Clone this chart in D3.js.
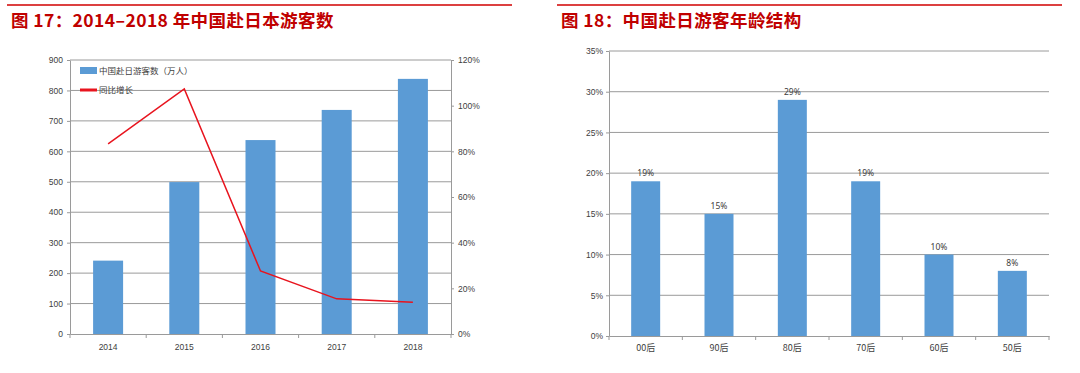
<!DOCTYPE html>
<html>
<head>
<meta charset="utf-8">
<script src="https://cdn.jsdelivr.net/npm/d3@7"></script>
<style>
  body { margin: 0; background: #fff; }
  svg { display: block; font-family: "Noto Sans", "Noto Sans CJK SC", sans-serif; }
</style>
</head>
<body>
<div id="chart"></div>
<script>
// data
const years = ["2014", "2015", "2016", "2017", "2018"]
const visitors = [241, 499, 637, 736, 838]
const growth = [0.833, 1.073, 0.276, 0.154, 0.139]
const leftTicks = [0, 100, 200, 300, 400, 500, 600, 700, 800, 900]
const rightTicks = [0, 0.2, 0.4, 0.6, 0.8, 1.0, 1.2]

const ageGroups = ["00后", "90后", "80后", "70后", "60后", "50后"]
const ageShare = [0.19, 0.15, 0.29, 0.19, 0.10, 0.08]
const ageTicks = [0, 0.05, 0.1, 0.15, 0.2, 0.25, 0.3, 0.35]

const width = 1080
const height = 373
const barColor = "#5B9BD5"
const titleColor = "#C00000"
const gridColor = "#9a9a9a"
const tickText = "#404040"
const cjk = "'Noto Sans CJK SC', sans-serif"

const svg = d3
  .create("svg")
  .attr("viewBox", [0, 0, width, height])
  .attr("width", width)
  .attr("height", height)

// headers
const headers = [
  { x1: 7, x2: 512, tx: 11, text: "图 17：2014–2018 年中国赴日本游客数" },
  { x1: 557, x2: 1062, tx: 561, text: "图 18：中国赴日游客年龄结构" }
]
headers.forEach(h => {
  svg.append("line")
    .attr("x1", h.x1).attr("x2", h.x2)
    .attr("y1", 5).attr("y2", 5)
    .attr("stroke", "#D00000").attr("stroke-width", 1.5)
  svg.append("text")
    .attr("x", h.tx).attr("y", 27)
    .attr("fill", titleColor)
    .attr("font-family", cjk)
    .attr("font-weight", "bold")
    .attr("font-size", 17.5)
    .attr("letter-spacing", 0.4)
    .text(h.text)
})

// ---------- left chart ----------
const L = { left: 70, right: 451, top: 60, bottom: 334 }

const x1 = d3.scaleBand().domain(years).range([L.left, L.right]).padding(0)
const y1 = d3.scaleLinear().domain([0, 900]).range([L.bottom, L.top])
const y2 = d3.scaleLinear().domain([0, 1.2]).range([L.bottom, L.top])

const g1 = svg.append("g")

g1.append("g")
  .selectAll("line")
  .data(leftTicks.slice(1))
  .join("line")
  .attr("x1", L.left).attr("x2", L.right)
  .attr("y1", d => y1(d)).attr("y2", d => y1(d))
  .attr("stroke", gridColor).attr("stroke-width", 1)

const bw1 = 30
g1.append("g")
  .selectAll("rect")
  .data(years)
  .join("rect")
  .attr("x", d => x1(d) + x1.bandwidth() / 2 - bw1 / 2)
  .attr("y", (d, i) => y1(visitors[i]))
  .attr("width", bw1)
  .attr("height", (d, i) => y1(0) - y1(visitors[i]))
  .attr("fill", barColor)

const line = d3.line()
  .x((d, i) => x1(years[i]) + x1.bandwidth() / 2)
  .y(d => y2(d))
g1.append("path")
  .datum(growth)
  .attr("d", line)
  .attr("fill", "none")
  .attr("stroke", "#E8141E")
  .attr("stroke-width", 1.5)

const yAxisL = d3.axisLeft(y1).tickValues(leftTicks).tickSize(3).tickSizeOuter(0)
g1.append("g")
  .attr("transform", `translate(${L.left},0)`)
  .call(yAxisL)
  .call(g => g.select(".domain").attr("stroke", gridColor))
  .call(g => g.selectAll(".tick line").attr("stroke", gridColor))
  .call(g => g.selectAll("text").attr("fill", tickText).attr("font-size", 8.5).attr("x", -7))

const yAxisR = d3.axisRight(y2).tickValues(rightTicks).tickSize(3).tickSizeOuter(0)
  .tickFormat(d3.format(".0%"))
g1.append("g")
  .attr("transform", `translate(${L.right},0)`)
  .call(yAxisR)
  .call(g => g.select(".domain").attr("stroke", gridColor))
  .call(g => g.selectAll(".tick line").attr("stroke", gridColor))
  .call(g => g.selectAll("text").attr("fill", tickText).attr("font-size", 8.5).attr("x", 7))

const xAxisL = d3.axisBottom(x1).tickSize(0).tickSizeOuter(0)
g1.append("g")
  .attr("transform", `translate(0,${L.bottom})`)
  .call(xAxisL)
  .call(g => g.select(".domain").attr("stroke", gridColor))
  .call(g => g.selectAll("text").attr("fill", tickText).attr("font-size", 8.5).attr("dy", "1.55em"))

g1.append("g")
  .selectAll("line")
  .data(d3.range(years.length + 1))
  .join("line")
  .attr("x1", i => L.left + i * x1.step()).attr("x2", i => L.left + i * x1.step())
  .attr("y1", L.bottom).attr("y2", L.bottom + 4)
  .attr("stroke", gridColor)

// legend
const lg = g1.append("g").attr("font-family", cjk).attr("font-size", 8.5).attr("fill", tickText)
lg.append("rect").attr("x", 80).attr("y", 67).attr("width", 17).attr("height", 7).attr("fill", barColor)
lg.append("text").attr("x", 99).attr("y", 74).text("中国赴日游客数（万人）")
lg.append("line").attr("x1", 80).attr("x2", 97).attr("y1", 90).attr("y2", 90)
  .attr("stroke", "#E8141E").attr("stroke-width", 3)
lg.append("text").attr("x", 99).attr("y", 93).text("同比增长")

// ---------- right chart ----------
const R = { left: 609, right: 1049, top: 51, bottom: 336 }

const x3 = d3.scaleBand().domain(ageGroups).range([R.left, R.right]).padding(0)
const y3 = d3.scaleLinear().domain([0, 0.35]).range([R.bottom, R.top])

const g2 = svg.append("g")

g2.append("g")
  .selectAll("line")
  .data(ageTicks.slice(1))
  .join("line")
  .attr("x1", R.left).attr("x2", R.right)
  .attr("y1", d => y3(d)).attr("y2", d => y3(d))
  .attr("stroke", gridColor).attr("stroke-width", 1)

const bw3 = 29
g2.append("g")
  .selectAll("rect")
  .data(ageGroups)
  .join("rect")
  .attr("x", d => x3(d) + x3.bandwidth() / 2 - bw3 / 2)
  .attr("y", (d, i) => y3(ageShare[i]))
  .attr("width", bw3)
  .attr("height", (d, i) => y3(0) - y3(ageShare[i]))
  .attr("fill", barColor)

g2.append("g")
  .selectAll("text")
  .data(ageGroups)
  .join("text")
  .attr("x", d => x3(d) + x3.bandwidth() / 2)
  .attr("y", (d, i) => y3(ageShare[i]) - 5)
  .attr("text-anchor", "middle")
  .attr("font-size", 8.5)
  .attr("fill", tickText)
  .text((d, i) => d3.format(".0%")(ageShare[i]))

const yAxis3 = d3.axisLeft(y3).tickValues(ageTicks).tickSize(3).tickSizeOuter(0)
  .tickFormat(d3.format(".0%"))
g2.append("g")
  .attr("transform", `translate(${R.left},0)`)
  .call(yAxis3)
  .call(g => g.select(".domain").attr("stroke", gridColor))
  .call(g => g.selectAll(".tick line").attr("stroke", gridColor))
  .call(g => g.selectAll("text").attr("fill", tickText).attr("font-size", 8.5).attr("x", -6))

const xAxis3 = d3.axisBottom(x3).tickSize(0).tickSizeOuter(0)
g2.append("g")
  .attr("transform", `translate(0,${R.bottom})`)
  .call(xAxis3)
  .call(g => g.select(".domain").attr("stroke", gridColor))
  .call(g => g.selectAll("text").attr("fill", tickText).attr("font-size", 9).attr("font-family", cjk).attr("dy", "1.3em"))

g2.append("g")
  .selectAll("line")
  .data(d3.range(ageGroups.length + 1))
  .join("line")
  .attr("x1", i => R.left + i * x3.step()).attr("x2", i => R.left + i * x3.step())
  .attr("y1", R.bottom).attr("y2", R.bottom + 4)
  .attr("stroke", gridColor)

document.querySelector("#chart").append(svg.node())
</script>
</body>
</html>
